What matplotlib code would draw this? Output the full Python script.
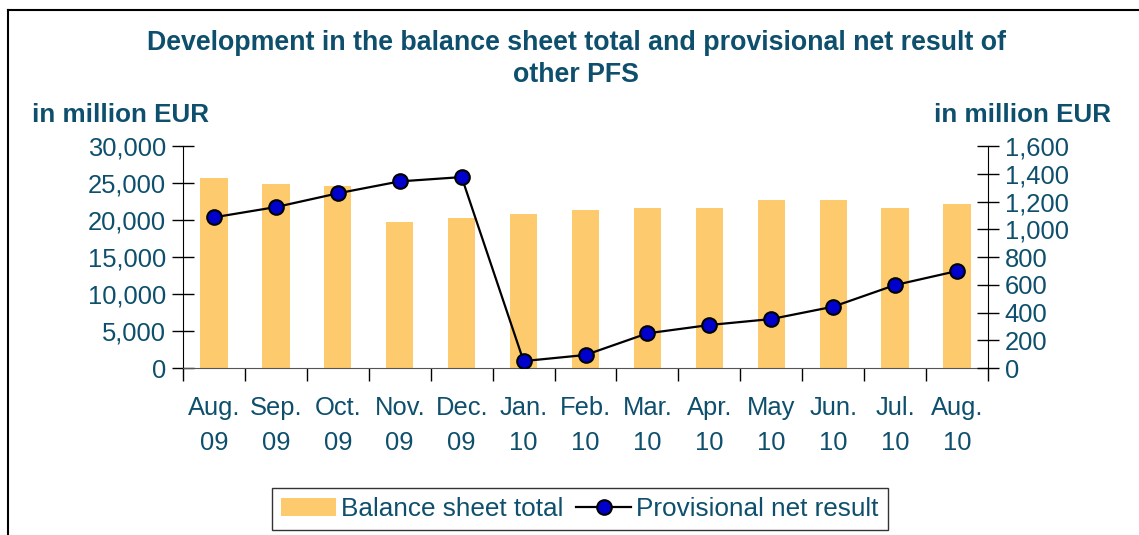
import matplotlib.pyplot as plt
from matplotlib.lines import Line2D
import numpy as np

plt.rcParams['font.family'] = ['Liberation Sans', 'DejaVu Sans']

# Data
months = ["Aug.\n09", "Sep.\n09", "Oct.\n09", "Nov.\n09", "Dec.\n09", "Jan.\n10", "Feb.\n10",
          "Mar.\n10", "Apr.\n10", "May\n10", "Jun.\n10", "Jul.\n10", "Aug.\n10"]
balance_total = [25700, 24900, 24600, 19700, 20300, 20800, 21400, 21600, 21600, 22700, 22700, 21600, 22200]
net_result = [1086, 1160, 1259, 1345, 1376, 50, 94, 250, 310, 353, 442, 598, 699]

txt = "#0d4f6c"
bar_col = "#fdcb6e"
fs = 18.4

fig = plt.figure(figsize=(11.39, 5.35), dpi=100)
ax = fig.add_axes([0.1607, 0.3121, 0.7067, 0.4150])
ax2 = ax.twinx()

x = np.arange(len(months))
bars = ax.bar(x, balance_total, width=0.44, color=bar_col, zorder=2, label="Balance sheet total")
line, = ax2.plot(x, net_result, color="black", lw=1.6, marker="o", markersize=10.5,
                 markerfacecolor="#0000cc", markeredgecolor="black", markeredgewidth=1.5,
                 label="Provisional net result")

ax.set_xlim(-0.5, len(months) - 0.5)
ax.set_ylim(0, 30000)
ax2.set_ylim(0, 1600)
ax.set_yticks(np.arange(0, 30001, 5000))
ax2.set_yticks(np.arange(0, 1601, 200))
ax.yaxis.set_major_formatter(plt.FuncFormatter(lambda v, p: f"{int(v):,}"))
ax2.yaxis.set_major_formatter(plt.FuncFormatter(lambda v, p: f"{int(v):,}"))

ax.set_xticks(x)
ax.set_xticklabels(months, linespacing=1.55)
ax.set_xticks(np.arange(-0.5, len(months)), minor=True)
ax.tick_params(axis="x", which="major", length=0, pad=20.5, labelsize=fs, labelcolor=txt)
ax.tick_params(axis="x", which="minor", length=9, width=1, direction="out")
ax.tick_params(axis="y", direction="inout", length=16, width=1, pad=4, labelsize=fs, labelcolor=txt)
ax2.tick_params(axis="y", direction="inout", length=16, width=1, pad=4, labelsize=fs, labelcolor=txt)

for a in (ax, ax2):
    a.spines["top"].set_visible(False)
ax.spines["right"].set_visible(False)
ax2.spines["left"].set_visible(False)
ax2.spines["bottom"].set_visible(False)
ax.spines["bottom"].set_color("#555555")

fig.text(0.506, 0.889, "Development in the balance sheet total and provisional net result of\nother PFS",
         ha="center", va="center", fontsize=19.3, fontweight="bold", color=txt, linespacing=1.3)
fig.text(0.028, 0.772, "in million EUR", ha="left", va="baseline", fontsize=18.7,
         fontweight="bold", color=txt)
fig.text(0.975, 0.772, "in million EUR", ha="right", va="baseline", fontsize=18.7,
         fontweight="bold", color=txt)

leg = fig.legend([bars, line], ["Balance sheet total", "Provisional net result"],
                 loc="center", bbox_to_anchor=(0.509, 0.048), ncol=2, frameon=True,
                 fancybox=False, edgecolor="black", fontsize=18.8, handlelength=2.1,
                 handletextpad=0.2, columnspacing=0.5, borderpad=0.35, borderaxespad=0)
leg.get_frame().set_linewidth(1)
for t in leg.get_texts():
    t.set_color(txt)

# outer frame (top and left edges)
fig.add_artist(Line2D([0.007, 1.0], [0.981, 0.981], transform=fig.transFigure, color="black", lw=1.5))
fig.add_artist(Line2D([0.007, 0.007], [0.0, 0.981], transform=fig.transFigure, color="black", lw=1.5))

fig.savefig("out.png", dpi=100)
